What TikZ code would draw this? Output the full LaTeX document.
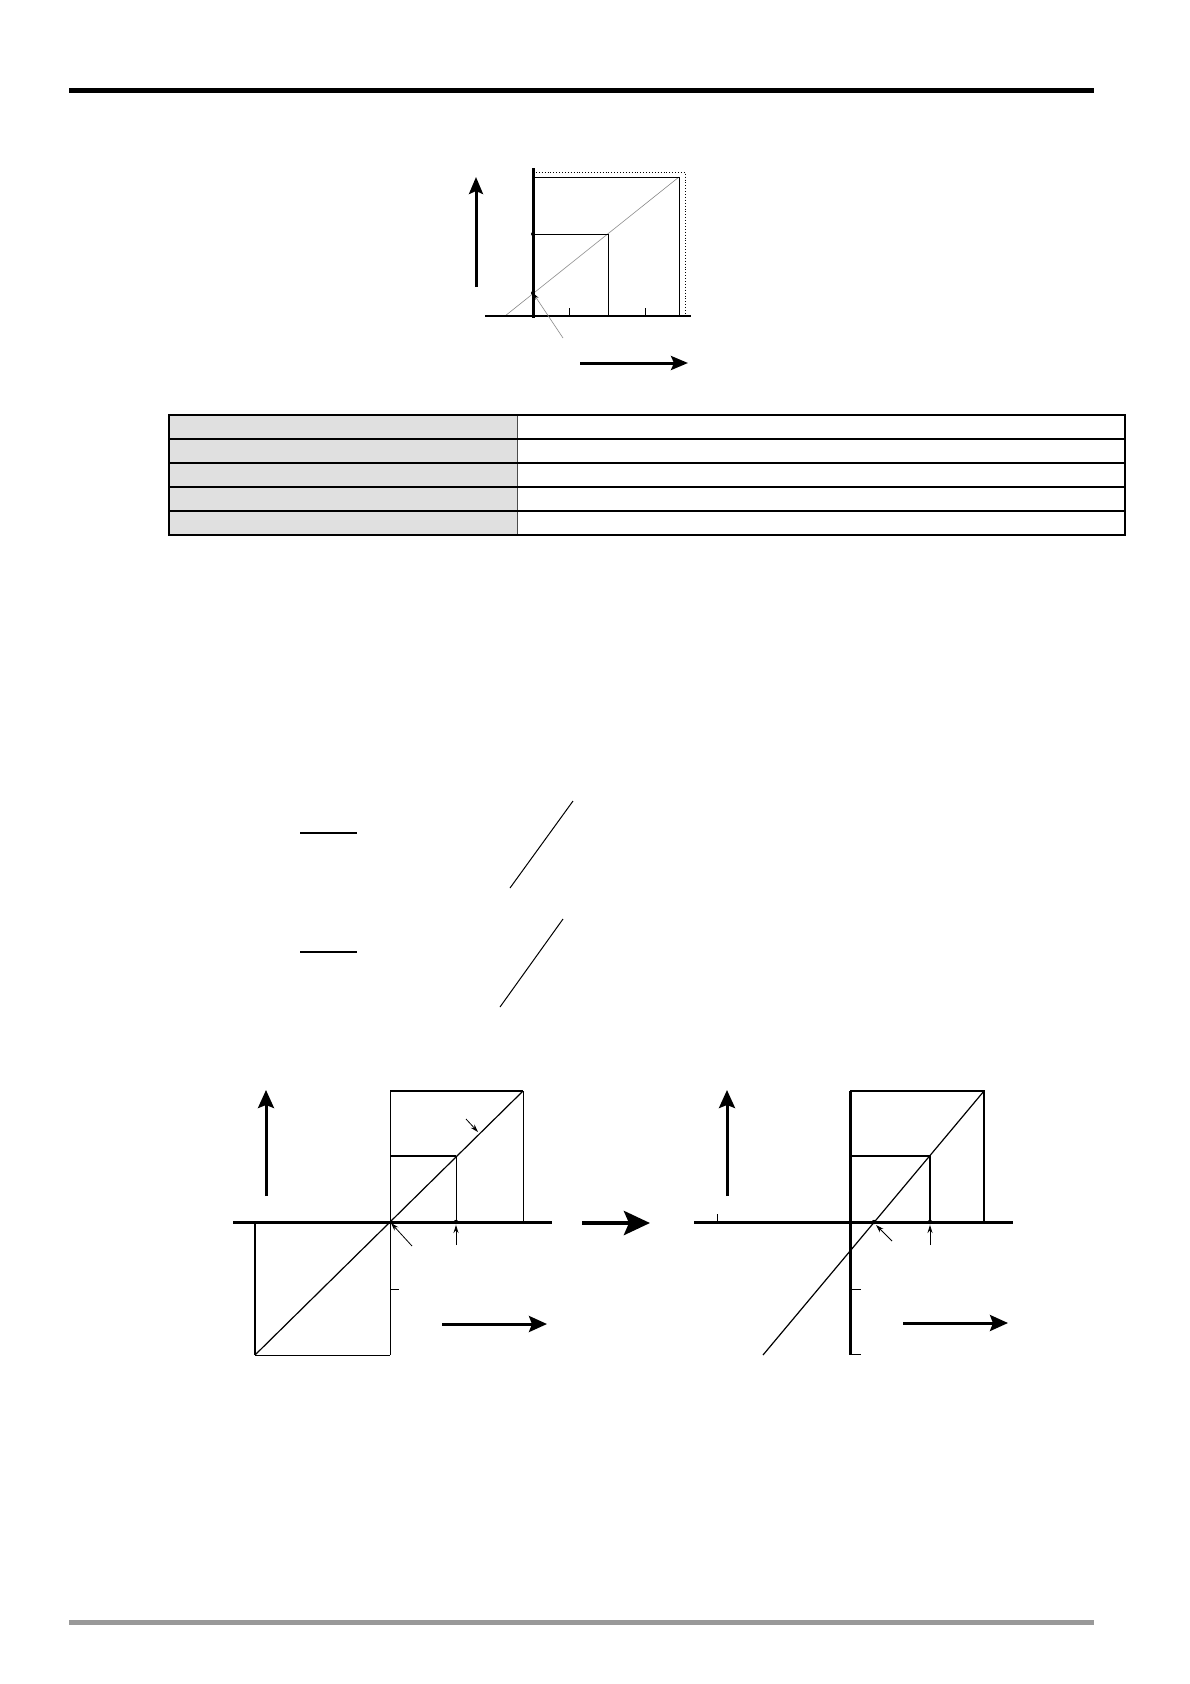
\documentclass[tikz,border=0pt]{standalone}
\usetikzlibrary{arrows.meta}
\begin{document}
\begin{tikzpicture}[x=1pt,y=-1pt,line join=miter,
  bigarrow/.style={line width=3pt,-{Stealth[length=17pt,width=14pt,inset=3pt]}},
  lowarrow/.style={line width=3pt,-{Stealth[length=18pt,width=16pt,inset=3pt]}},
  hugearrow/.style={line width=4.5pt,-{Stealth[length=26pt,width=24pt,inset=5pt]}},
  smallarrow/.style={line width=0.8pt,-{Stealth[length=8pt,width=5pt]}},
  axisline/.style={line width=3pt},
  thinline/.style={line width=1pt},
  midline/.style={line width=1.6pt}]
\useasboundingbox (0,0) rectangle (1190,1684);
\fill[white] (0,0) rectangle (1190,1684);
% header and footer rules
\fill[black] (69,88) rectangle (1094,93);
\fill[black!40] (69,1620) rectangle (1094,1625);

% ---------- top figure ----------
\draw[line width=0.6pt,black!45] (505,316) -- (679,177);
\draw[dotted,line width=0.9pt] (533,172) -- (685,172) -- (685,316);
\draw[thinline] (533,177) -- (679,177) -- (679,316);
\draw[thinline] (533,234) -- (608,234) -- (608,316);
\draw[thinline] (569,316) -- (569,308);
\draw[thinline] (645,316) -- (645,308);
\draw[line width=2.5pt] (485,316) -- (691,316);
\draw[axisline] (533,168) -- (533,317.5);
\fill (533,234) circle (2);
\coordinate (t0) at (533,293);
\fill (t0) circle (2);
\coordinate (tp) at (563,338);
\draw[line width=0.6pt,black!45,-{Stealth[length=7pt,width=4pt,black]}] (tp) -- (t0);
\coordinate (tua) at (476,287); \coordinate (tub) at (476,177);
\draw[bigarrow] (tua) -- (tub);
\coordinate (tra) at (580,363); \coordinate (trb) at (688,363);
\draw[bigarrow] (tra) -- (trb);

% ---------- table ----------
\fill[black!12] (169,415) rectangle (517,535);
\draw[line width=0.6pt,black!70] (517,415) -- (517,535);
\foreach \yy in {439,463,487,511}
  \draw[line width=1.2pt] (169,\yy) -- (1125,\yy);
\draw[line width=1.2pt] (169,415) rectangle (1125,535);

% ---------- middle strokes ----------
\draw[line width=1.2pt] (300,833) -- (357,833);
\draw[line width=1pt] (510,888) -- (573,801);
\draw[line width=1.2pt] (300,952) -- (357,952);
\draw[line width=1pt] (500,1007) -- (563,919);

% ---------- bottom left figure ----------
\draw[thinline] (390,1091) -- (390,1355);
\draw[midline] (390,1091) -- (523,1091);
\draw[thinline] (523,1091) -- (523,1222);
\draw[midline] (390,1156) -- (456,1156);
\draw[thinline] (456,1156) -- (456,1222);
\draw[midline] (255,1222) -- (255,1355);
\draw[thinline] (255,1355) -- (390,1355);
\draw[line width=1.2pt] (255,1355) -- (523,1091);
\draw[thinline] (390,1289) -- (399,1289);
\draw[axisline] (233,1222) -- (552,1222);
\fill (456,1222) circle (2.2);
\coordinate (l0) at (391,1223);
\coordinate (lp) at (412,1246);
\draw[smallarrow] (lp) -- (l0);
\coordinate (lq) at (456,1245); \coordinate (lqt) at (456,1225);
\draw[smallarrow] (lq) -- (lqt);
\coordinate (lr) at (466,1119); \coordinate (lrt) at (478,1132);
\draw[smallarrow] (lr) -- (lrt);
\coordinate (lua) at (266,1196); \coordinate (lub) at (266,1090);
\draw[lowarrow] (lua) -- (lub);
\coordinate (lra) at (442,1324); \coordinate (lrb) at (547,1324);
\draw[lowarrow] (lra) -- (lrb);

% ---------- big arrow between ----------
\coordinate (ma) at (582,1223); \coordinate (mb) at (650,1223);
\draw[hugearrow] (ma) -- (mb);

% ---------- bottom right figure ----------
\draw[midline] (850,1091) -- (984,1091) -- (984,1222);
\draw[midline] (850,1156) -- (930,1156) -- (930,1222);
\draw[line width=1.2pt] (763,1355) -- (984,1091);
\draw[thinline] (850,1289) -- (861,1289);
\draw[thinline] (850,1354) -- (861,1354);
\draw[thinline] (717,1222) -- (717,1214);
\draw[axisline] (694,1222) -- (1013,1222);
\draw[axisline] (850,1091) -- (850,1355);
\coordinate (r0) at (874,1222);
\fill (r0) circle (2.2);
\fill (930,1222) circle (2.2);
\coordinate (rp) at (892,1241); \coordinate (r0t) at (876,1225);
\draw[smallarrow] (rp) -- (r0t);
\coordinate (rq) at (930,1245); \coordinate (rqt) at (930,1225);
\draw[smallarrow] (rq) -- (rqt);
\coordinate (rua) at (727,1196); \coordinate (rub) at (727,1090);
\draw[lowarrow] (rua) -- (rub);
\coordinate (rra) at (903,1323); \coordinate (rrb) at (1008,1323);
\draw[lowarrow] (rra) -- (rrb);
\end{tikzpicture}
\end{document}
